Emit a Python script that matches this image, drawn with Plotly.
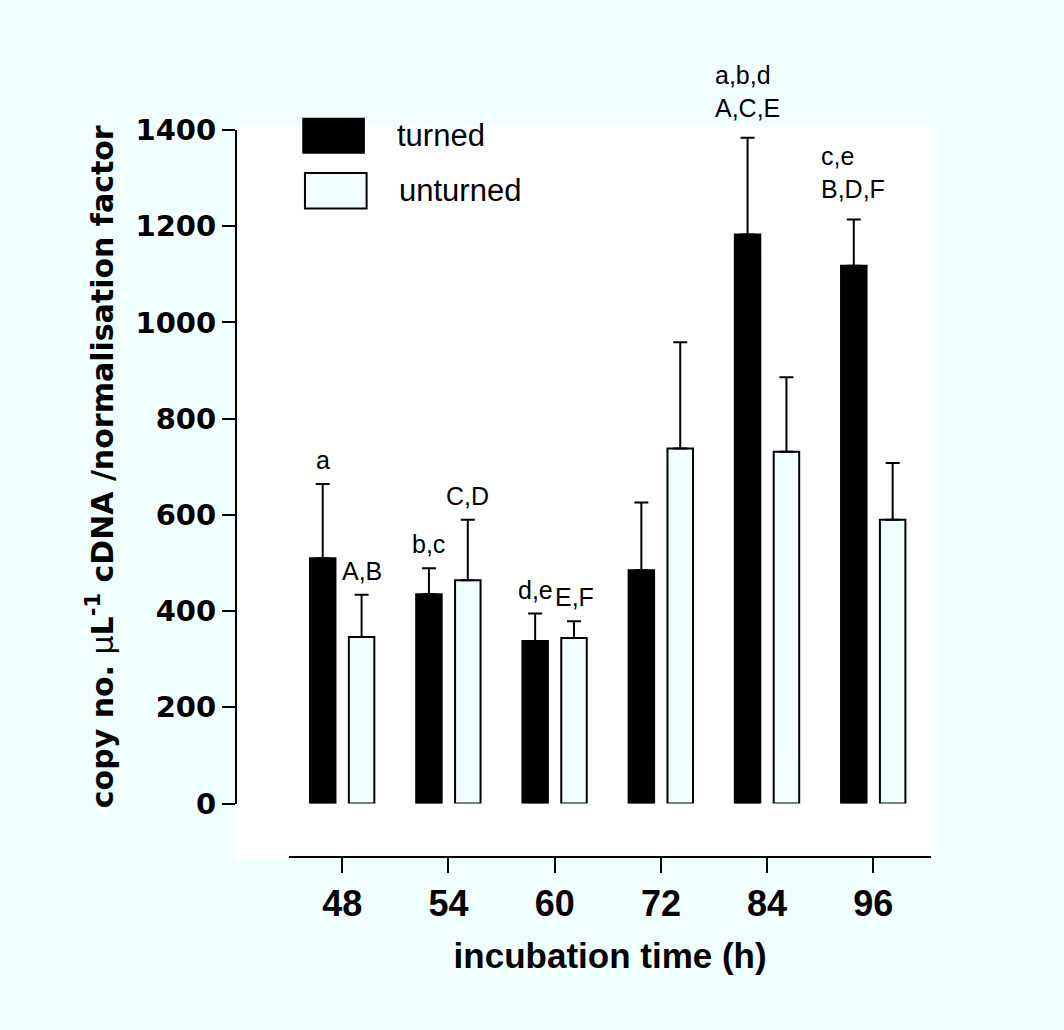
import plotly.graph_objects as go

# ---- data ----
times = ["48", "54", "60", "72", "84", "96"]
turned = [510, 435, 338, 485, 1183, 1118]
turned_err = [154, 54, 57, 141, 201, 96]
unturned = [346, 464, 344, 738, 731, 590]
unturned_err = [88, 126, 35, 221, 155, 118]
turned_sig = ["a", "b,c", "d,e", "", "a,b,d<br>A,C,E", "c,e<br>B,D,F"]
unturned_sig = ["A,B", "C,D", "E,F", "", "", ""]
y_ticks = [0, 200, 400, 600, 800, 1000, 1200, 1400]
series_names = ["turned", "unturned"]

# ---- styling / layout geometry ----
BG = "#F0FFFF"
W_FIG, H_FIG = 1064, 1030
L, R, T, B = 236, 931.5, 129.6, 857.5
PW, PH = R - L, B - T


def px(x):
    return (x - L) / PW


def py(y):
    return (B - y) / PH


BAR_W = 0.24
OFF_T = -0.184
OFF_U = 0.182

fig = go.Figure()
fig.add_trace(go.Bar(
    x=times, y=turned, name=series_names[0],
    width=BAR_W, offset=OFF_T - BAR_W / 2,
    marker=dict(color="black", line=dict(color="black", width=2)),
    error_y=dict(type="data", array=turned_err, arrayminus=[0] * len(turned),
                 symmetric=False, color="black", thickness=2, width=7),
    showlegend=False,
))
fig.add_trace(go.Bar(
    x=times, y=unturned, name=series_names[1],
    width=BAR_W, offset=OFF_U - BAR_W / 2,
    marker=dict(color=BG, line=dict(color="black", width=2)),
    error_y=dict(type="data", array=unturned_err, arrayminus=[0] * len(unturned),
                 symmetric=False, color="black", thickness=2, width=7),
    showlegend=False,
))

annotations = []
ann_font = dict(family="Liberation Sans, Arial, sans-serif", size=25, color="black")
for sigs, vals, errs, off in [(turned_sig, turned, turned_err, OFF_T),
                              (unturned_sig, unturned, unturned_err, OFF_U)]:
    for i, s in enumerate(sigs):
        if not s:
            continue
        top = vals[i] + errs[i]
        if "<br>" not in s:
            annotations.append(dict(x=i + off, y=top, xref="x", yref="y", text=s,
                                    showarrow=False, xanchor="center", yanchor="bottom",
                                    yshift=8, font=ann_font))
        else:
            annotations.append(dict(x=i + off, y=top, xref="x", yref="y", text=s,
                                    showarrow=False, xanchor="left", yanchor="bottom",
                                    align="left", xshift=-35, yshift=14, font=ann_font))

# legend (drawn manually to match large swatches)
leg_font = dict(family="Liberation Sans, Arial, sans-serif", size=31, color="black")
annotations.append(dict(x=px(395), y=py(135.5), xref="paper", yref="paper",
                        text=series_names[0], showarrow=False, xanchor="left",
                        yanchor="middle", font=leg_font))
annotations.append(dict(x=px(396.7), y=py(190.5), xref="paper", yref="paper",
                        text=series_names[1], showarrow=False, xanchor="left",
                        yanchor="middle", font=leg_font))

shapes = [
    # white panel
    dict(type="rect", xref="paper", yref="paper", x0=px(234), x1=px(933.5),
         y0=py(860), y1=py(126), fillcolor="white", line=dict(width=0), layer="below"),
    # legend swatches
    dict(type="rect", xref="paper", yref="paper", x0=px(302.3), x1=px(365),
         y0=py(153.3), y1=py(117.3), fillcolor="black", line=dict(width=0)),
    dict(type="rect", xref="paper", yref="paper", x0=px(305), x1=px(366.7),
         y0=py(208.3), y1=py(172.7), fillcolor=BG, line=dict(color="black", width=2)),
]

fig.update_layout(
    width=W_FIG, height=H_FIG,
    margin=dict(l=L, r=W_FIG - R, t=T, b=H_FIG - B, pad=0, autoexpand=False),
    paper_bgcolor=BG, plot_bgcolor="rgba(0,0,0,0)",
    barmode="overlay",
    annotations=annotations, shapes=shapes,
    font=dict(family="Liberation Sans, Arial, sans-serif", color="black"),
    xaxis=dict(
        type="category", domain=[px(289.3), 1], range=[-0.499, 5.543],
        anchor="free", position=0,
        showline=True, linecolor="black", linewidth=2,
        ticks="outside", ticklen=15, tickwidth=2, tickcolor="black",
        showgrid=False, zeroline=False,
        tickfont=dict(family="Liberation Sans, Arial, sans-serif", size=36, color="black", weight="bold"),
        title=dict(text="<b>incubation time (h)</b>", standoff=19,
                   font=dict(family="Liberation Sans, Arial, sans-serif", size=35, color="black")),
        automargin=False,
    ),
    yaxis=dict(
        domain=[py(804), 1], range=[0, 1400],
        anchor="free", position=0,
        tickvals=y_ticks,
        showline=True, linecolor="black", linewidth=2,
        ticks="outside", ticklen=13, tickwidth=2, tickcolor="black",
        showgrid=False, zeroline=False,
        tickfont=dict(family="DejaVu Sans, sans-serif", size=29, color="black", weight="bold"),
        title=dict(text="<b>copy no. </b><span style='font-weight:normal'>μ</span><b>L<sup>-1</sup> cDNA /normalisation factor</b>",
                   standoff=12,
                   font=dict(family="DejaVu Sans, sans-serif", size=30, color="black")),
        automargin=False,
    ),
)

fig.write_html("out.html", config={"displayModeBar": False},
               post_script="document.body.style.margin='0px';document.body.style.overflow='hidden';")
